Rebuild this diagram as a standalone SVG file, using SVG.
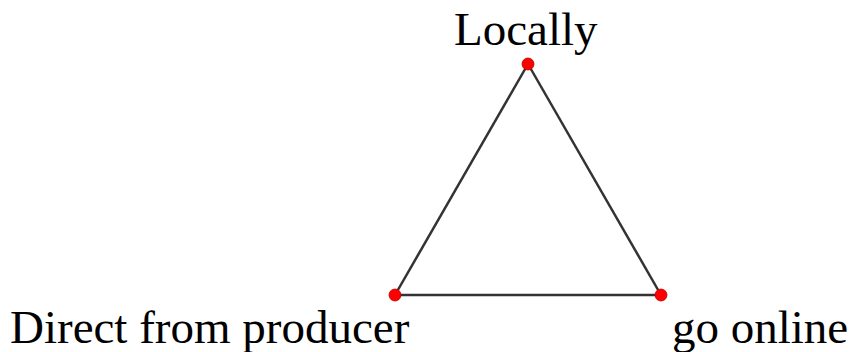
<svg xmlns="http://www.w3.org/2000/svg" width="854" height="352" viewBox="0 0 854 352">
<style>
.lbl{font-family:"Liberation Serif","Times New Roman",serif;font-size:47px;fill:#000}
.edge{stroke:#333;stroke-width:2.5;fill:none}
.pt{fill:#f00;stroke:#b00;stroke-width:0.8}
</style>
<rect width="854" height="352" fill="#fff"/>
<g id="connectors">
<line class="edge" x1="528" y1="64" x2="395" y2="295"/>
<line class="edge" x1="528" y1="64" x2="661" y2="295"/>
<line class="edge" x1="395" y1="295" x2="661" y2="295"/>
</g>
<g id="node-locally">
<circle class="pt" cx="528" cy="64" r="6"/>
<text class="lbl" x="454" y="45">Locally</text>
</g>
<g id="node-direct">
<circle class="pt" cx="395" cy="295" r="6"/>
<text class="lbl" x="10" y="343">Direct from producer</text>
</g>
<g id="node-online">
<circle class="pt" cx="661" cy="295" r="6"/>
<text class="lbl" x="672" y="343">go online</text>
</g>
</svg>
